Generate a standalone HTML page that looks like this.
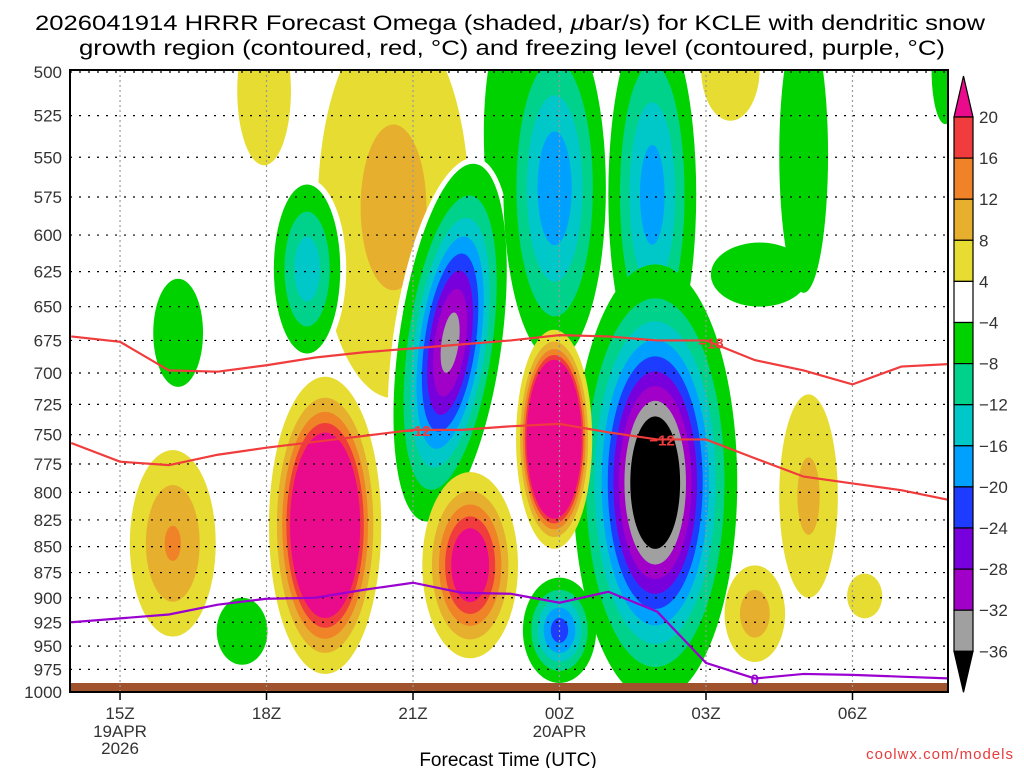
<!DOCTYPE html>
<html><head><meta charset="utf-8"><style>
html,body{margin:0;padding:0;background:#fff}
svg{display:block}
text{font-family:"Liberation Sans",sans-serif}
</style></head><body>
<svg id="chart" width="1024" height="768" viewBox="0 0 1024 768" xmlns="http://www.w3.org/2000/svg">
<text x="510" y="30" text-anchor="middle" font-size="21" textLength="950" lengthAdjust="spacingAndGlyphs">2026041914 HRRR Forecast Omega (shaded, <tspan font-style="italic">μ</tspan>bar/s) for KCLE with dendritic snow</text>
<text x="512" y="55" text-anchor="middle" font-size="21" textLength="866" lengthAdjust="spacingAndGlyphs">growth region (contoured, red, °C) and freezing level (contoured, purple, °C)</text>
<defs><clipPath id="plotclip"><rect x="70" y="70" width="878" height="622"/></clipPath></defs>
<g id="fills" clip-path="url(#plotclip)"></g>
<g id="grid"></g>
<g id="lines" clip-path="url(#plotclip)"></g>
<g id="axes"></g>
<g id="cbar"></g>
<text x="508" y="766" text-anchor="middle" font-size="19">Forecast Time (UTC)</text>
<text x="1014" y="759" text-anchor="end" font-size="15" fill="#e83c3c" letter-spacing="1">coolwx.com/models</text>
</svg>
<script>
// ---- data ----
const pressureTicks = [500,525,550,575,600,625,650,675,700,725,750,775,800,825,850,875,900,925,950,975,1000];
const timeTickHours = [1,4,7,10,13,16];
const timeTickLabels = ["15Z","18Z","21Z","00Z","03Z","06Z"];
const dateLabels = [["19APR","2026"],["","" ],["",""],["20APR",""],["",""],["",""]];
const cbarLevels = [20,16,12,8,4,-4,-8,-12,-16,-20,-24,-28,-32,-36];
// omega cells: hour offset from 14Z, half-width (h), top/bottom pressure of |4| contour, peak, tilt (deg), halo flag
const blobNames = ["yellow-16z","magenta-19z","yellow-upper-20z","yellow-upper-18z","yellow-05z","yellow-04z","yellow-06z","yellow-top-03z",
 "green-16z","green-18z-low","cyan-18z","green-bridge-23z","uplift-22z","uplift-00z-upper","uplift-02z-upper","uplift-02z","green-arc-03z","green-05z","green-corner-08z","uplift-00z-low",
 "magenta-22z","magenta-00z"];
const blobHour  = [2.08,5.2,6.6,3.95,15.1,14.0,16.25,13.5, 2.19,3.5,4.83,9.0,7.76,9.9,11.9,11.96,14.1,15.0,17.9,10.0, 8.17,9.89];
const blobHalfW = [0.88,1.15,1.55,0.55,0.6,0.62,0.36,0.6, 0.51,0.52,0.68,0.55,1.05,1.05,0.9,1.68,1.0,0.5,0.28,0.75, 0.98,0.78];
const blobPTop  = [763,703,470,470,717,868,876,470, 630,900,567,470,553,470,470,620,605,470,470,880, 782,667];
const blobPBot  = [940,980,720,555,900,967,921,528, 711,970,685,610,828,690,700,1010,650,640,530,990, 963,852];
const blobPeak  = [12.5,56,9.4,5,9,10,6,6, -6,-6,-14.5,-6,-34,-19,-18,-45,-6,-7,-6,-22, 27,120];
const blobTilt  = [0,0,0,0,0,0,0,0, 0,0,0,0,8,0,0,0,0,0,0,0, 0,0];
const blobHalo  = [0,0,0,0,0,0,0,0, 0,0,1,0,1,0,0,0,0,0,0,0, 0,0];
// contour lines (hourly, 14Z..08Z), pressure hPa
const lineHours = [0,1,2,3,4,5,6,7,8,9,10,11,12,13,14,15,16,17,18];
const minus18P = [672,676,698,699,694,688,684,681,678,675,671,672,675,675,690,698,709,695,693];
const minus12P = [757,773,776,767,761,756,751,746,746,743,741,748,754,754,770,786,792,798,807];
const freezeP  = [925,921,917,907,901,900,892,885,895,896,905,894,914,968,985,980,981,983,985];

// ---- scales ----
const X0=71.2, DX=48.83, Y0=72, YH=620;
const xs = h => X0 + h*DX;
const ys = p => Y0 + YH*Math.log(p/500)/Math.log(2);
const NS="http://www.w3.org/2000/svg";
function mk(tag, attrs, parent){const e=document.createElementNS(NS,tag);for(const k in attrs)e.setAttribute(k,attrs[k]);parent.appendChild(e);return e;}

const posThr=[4,8,12,16,20], posCol=["#e6dc32","#e6af2d","#f08228","#f03c3c","#ea0a8c"];
const negThr=[4,8,12,16,20,24,28,32,36], negCol=["#00d200","#00d28c","#00c8c8","#00a0ff","#1e3cff","#7800dc","#a000c8","#a0a0a0","#000000"];

const fills=document.getElementById('fills');
function drawBlob(i){
  const P=blobPeak[i], a=Math.abs(P);
  const cx=xs(blobHour[i]), y1=ys(blobPTop[i]), y2=ys(blobPBot[i]);
  const cy=(y1+y2)/2, ry=(y2-y1)/2, rx=blobHalfW[i]*DX;
  const g=mk('g',{transform:`rotate(${blobTilt[i]} ${cx} ${cy})`},fills);
  
  
  if(blobHalo[i]){
    const h=mk('ellipse',{cx,cy,rx:rx+6,ry:ry+6,fill:'#fff'},g);
    
    
  }
  const thr=P>0?posThr:negThr, col=P>0?posCol:negCol;
  for(let k=0;k<thr.length;k++){
    if(thr[k]>a) break;
    const s=k===0?1:Math.sqrt(Math.log(a/thr[k])/Math.log(a/4));
    const e=mk('ellipse',{cx,cy,rx:rx*s,ry:ry*s,fill:col[k]},g);
    
    
  }
}
for(let i=0;i<blobPeak.length;i++) drawBlob(i);
const gr=mk('rect',{x:70,y:683,width:878,height:10,fill:'#a0522d'},fills);



// grid
const grid=document.getElementById('grid');
pressureTicks.forEach(p=>{
  const l=mk('line',{x1:70,x2:948,y1:ys(p),y2:ys(p),stroke:'#000','stroke-width':1.2,'stroke-dasharray':'2 7'},grid);
  
  
});
timeTickHours.forEach(h=>{
  const l=mk('line',{x1:xs(h),x2:xs(h),y1:70,y2:692,stroke:'#999','stroke-width':1.2,'stroke-dasharray':'2 3'},grid);
  
  
});

// contour lines
const lines=document.getElementById('lines');
function pl(arr,color,name){
  const pts=lineHours.map((h,i)=>xs(h)+','+ys(arr[i])).join(' ');
  const e=mk('polyline',{points:pts,fill:'none',stroke:color,'stroke-width':2.2},lines);
  
  
}
pl(minus18P,'#f03c3c','contour-minus18');
pl(minus12P,'#f03c3c','contour-minus12');
pl(freezeP,'#9a00d0','freezing-level-line');
function lab(t,h,arr,color){
  const x=xs(h), idx=Math.floor(h), f=h-idx;
  const p=arr[idx]*(1-f)+arr[Math.min(idx+1,arr.length-1)]*f;
  const y=ys(p);
  const tx=mk('text',{x,y:y+6,'text-anchor':'middle','font-size':15,'font-weight':'bold',fill:color},lines);
  tx.textContent=t;
  
  
}
lab('−12',7.1,minus12P,'#f03c3c');
lab('−12',12.1,minus12P,'#f03c3c');
lab('−18',13.1,minus18P,'#f03c3c');
lab('0',14.0,freezeP,'#9a00d0');

// axes
const axes=document.getElementById('axes');
const fr=mk('rect',{x:70,y:70,width:878,height:622,fill:'none',stroke:'#000','stroke-width':2},axes);


pressureTicks.forEach(p=>{
  const t=mk('text',{x:62,y:ys(p)+6,'text-anchor':'end','font-size':17,fill:'#333'},axes);
  t.textContent=p;
  
  
});
timeTickHours.forEach((h,i)=>{
  const x=xs(h);
  const tk=mk('line',{x1:x,x2:x,y1:692,y2:700,stroke:'#000','stroke-width':1.5},axes);
  
  
  const t=mk('text',{x,y:719,'text-anchor':'middle','font-size':17,fill:'#333'},axes);
  t.textContent=timeTickLabels[i];
  
  
  dateLabels[i].forEach((d,j)=>{ if(!d) return;
    const dt=mk('text',{x,y:737+j*17,'text-anchor':'middle','font-size':17,fill:'#333'},axes);
    dt.textContent=d;
    
    
  });
});

// colorbar
const cb=document.getElementById('cbar');
const cbCols=["#ea0a8c","#f03c3c","#f08228","#e6af2d","#e6dc32","#ffffff","#00d200","#00d28c","#00c8c8","#00a0ff","#1e3cff","#7800dc","#a000c8","#a0a0a0","#000000"];
const cbx=954, cbw=19, ctop=117, step=41.1;
const tri1=mk('polygon',{points:`${cbx},${ctop} ${cbx+cbw},${ctop} ${cbx+cbw/2},76`,fill:cbCols[0],stroke:'#000','stroke-width':1.2},cb);


for(let k=0;k<cbarLevels.length-1;k++){
  const r=mk('rect',{x:cbx,y:ctop+k*step,width:cbw,height:step,fill:cbCols[k+1],stroke:'#000','stroke-width':1.2},cb);
  
  
}
const yb=ctop+(cbarLevels.length-1)*step;
const tri2=mk('polygon',{points:`${cbx},${yb} ${cbx+cbw},${yb} ${cbx+cbw/2},${yb+41}`,fill:'#000',stroke:'#000','stroke-width':1.2},cb);


cbarLevels.forEach((v,k)=>{
  const t=mk('text',{x:979,y:ctop+k*step+6,'font-size':17,fill:'#333'},cb);
  t.textContent=v<0?'−'+(-v):String(v);
  
  
});
</script>
</body></html>
